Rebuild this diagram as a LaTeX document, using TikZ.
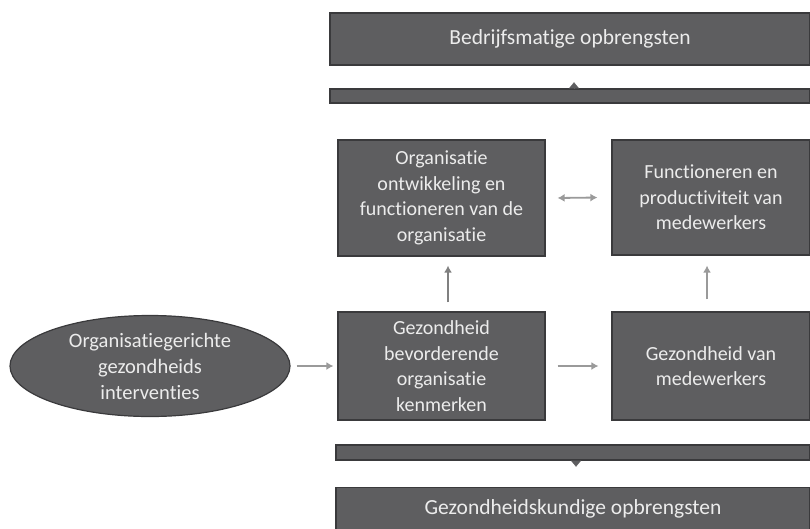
\documentclass[tikz,border=0pt]{standalone}
\usepackage{fontspec}
\setmainfont{Carlito}[Ligatures={NoCommon, NoContextual}]
\usepackage{tikz}
\usetikzlibrary{arrows.meta, positioning, shapes.geometric}

\definecolor{boxfill}{HTML}{5E5E60}
\definecolor{boxline}{HTML}{3A3A3C}
\definecolor{arrowgray}{HTML}{9A9A9A}
\definecolor{textwhite}{HTML}{ECECEC}

\tikzset{
    blok/.style={draw=boxline, line width=1.2pt, fill=boxfill, text=textwhite, align=center,
        inner sep=2pt, font=\fontsize{20}{25.5}\selectfont},
    kop/.style={blok, font=\fontsize{21.5}{26}\selectfont},
    balk/.style={draw=boxline, line width=1.2pt, fill=boxfill, inner sep=0pt},
    pijl/.style={arrowgray, line width=1.8pt, -{Latex[length=7pt, width=8pt]}},
    tweepijl/.style={arrowgray, line width=1.8pt, {Latex[length=7pt, width=8pt]}-{Latex[length=7pt, width=8pt]}},
    balkpunt/.style={boxfill, line width=0.1pt, -{Triangle[length=6pt, width=10pt, round]}}
}

\begin{document}
\begin{tikzpicture}[x=1pt, y=-1pt]
\useasboundingbox (0,0) rectangle (810,528);
\clip (0,0) rectangle (810,528);
% opbrengsten
\node[kop, minimum width=480pt, minimum height=52pt] (bedrijf) at (570,39) {Bedrijfsmatige opbrengsten};
\node[balk, minimum width=480pt, minimum height=14pt] (balkboven) at (570,96) {};
\node[balk, minimum width=474pt, minimum height=15pt] (balkonder) at (573,452.5) {};
\node[kop, minimum width=474pt, minimum height=43pt] (gezondheid) at (573,509) {Gezondheidskundige opbrengsten};
% middenblokken
\node[blok, minimum width=207pt, minimum height=116pt] (orgdev) at (441.5,198) {Organisatie\\ontwikkeling en\\functioneren van de\\organisatie};
\node[blok, minimum width=198pt, minimum height=115pt] (functie) at (711,197.5) {Functioneren en\\productiviteit van\\medewerkers};
\node[blok, minimum width=207pt, minimum height=108pt] (kenmerk) at (441.5,366) {Gezondheid\\bevorderende\\organisatie\\kenmerken};
\node[blok, minimum width=198pt, minimum height=108pt] (medew) at (711,366) {Gezondheid van\\medewerkers};
\node[blok, ellipse, minimum width=280pt, minimum height=101pt, inner sep=0pt,
    font=\fontsize{20.5}{26}\selectfont] (interv) at (150,366) {Organisatiegerichte\\gezondheids\\interventies};
% pijlen
\draw[pijl] ([xshift=6pt]interv.east) -- ([xshift=-4pt]kenmerk.west);
\draw[pijl] ([xshift=12pt]kenmerk.east) -- ([xshift=-13pt]medew.west);
\draw[tweepijl] ([xshift=12pt]orgdev.east) -- ([xshift=-14pt]functie.west);
\draw[pijl, color=gray] ([xshift=6.5pt, yshift=9pt]kenmerk.north) -- ([xshift=6.5pt, yshift=-9pt]orgdev.south);
\draw[pijl] ([xshift=-4pt, yshift=12pt]medew.north) -- ([xshift=-4pt, yshift=-10pt]functie.south);
\draw[balkpunt] ([xshift=4pt]balkboven.north) -- ++(0,-6);
\draw[balkpunt] ([xshift=3pt]balkonder.south) -- ++(0,6);
\end{tikzpicture}
\end{document}
